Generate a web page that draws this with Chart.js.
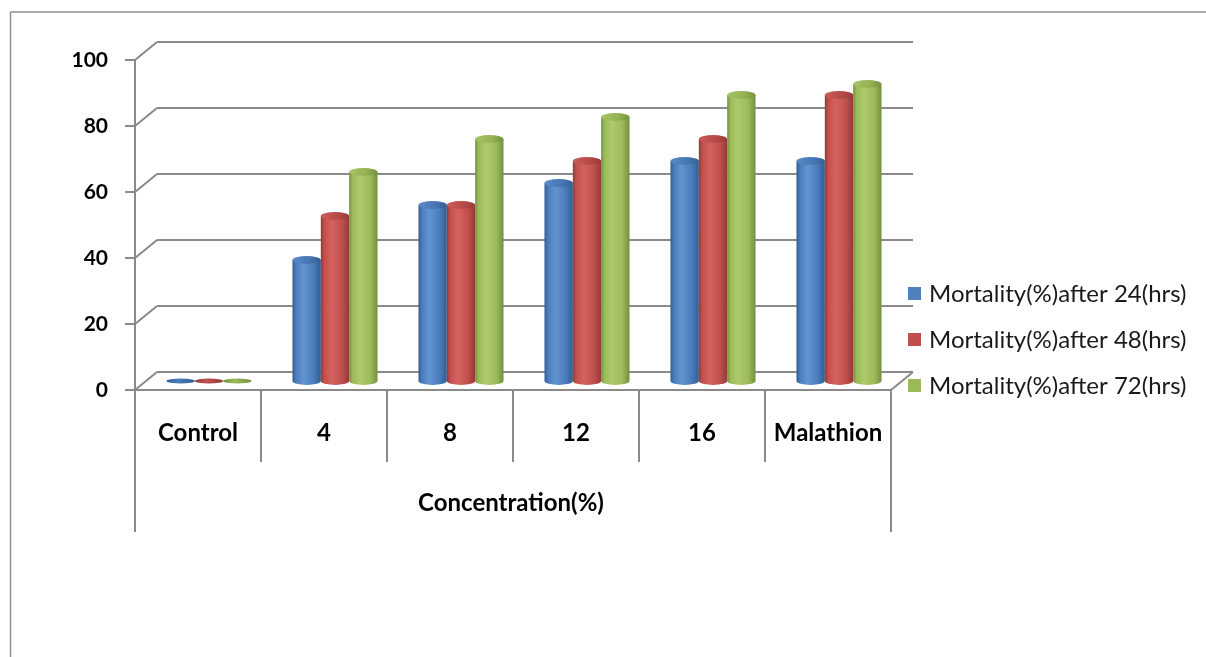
<!DOCTYPE html>
<html>
<head>
<meta charset="utf-8">
<title>Mortality by concentration</title>
<script src="https://cdn.jsdelivr.net/npm/chart.js@4.4.1/dist/chart.umd.min.js"></script>
<style>
  html, body { margin: 0; padding: 0; background: #ffffff; }
  #wrap { position: relative; width: 1206px; height: 657px; }
  canvas { display: block; }
</style>
</head>
<body>
<div id="wrap"><canvas id="chart" width="1206" height="657"></canvas></div>
<script>
// Category labels along the horizontal axis
const categories = ['Control', '4', '8', '12', '16', 'Malathion'];

// Mortality (%) per exposure time
const mortality24 = [0, 36.67, 53.33, 60, 66.67, 66.67];
const mortality48 = [0, 50, 53.33, 66.67, 73.33, 86.67];
const mortality72 = [0, 63.33, 73.33, 80, 86.67, 90];

// Series names
const seriesNames = ['Mortality(%)after 24(hrs)', 'Mortality(%)after 48(hrs)', 'Mortality(%)after 72(hrs)'];

// Value axis ticks
const yTicks = [0, 20, 40, 60, 80, 100];

const xTitle = 'Concentration(%)';

// Cylinder shading per series
const palettes = [
  { dark: '#325d92', light: '#6394d2', mid: '#4a7cbb', top: '#4676b3', topLight: '#5d8ccb', swatch: '#4f81bd' },
  { dark: '#93393a', light: '#d6625e', mid: '#c0504d', top: '#b64a47', topLight: '#cd5d59', swatch: '#c0504d' },
  { dark: '#738f3f', light: '#aeca6b', mid: '#9bbb59', top: '#93b253', topLight: '#a7c566', swatch: '#9bbb59' }
];

// Half of the 3-D depth offset (front plane is -DX,+DY from the bars, back wall +DX,-DY)
const DX = 11, DY = 9;
const GRID = '#8a8a8a';

function drawCylinder(ctx, x, w, top, base, pal) {
  const rx = w / 2;
  const l = x - rx, r = x + rx;
  if (base - top < 1) {
    const g = ctx.createLinearGradient(l, 0, r, 0);
    g.addColorStop(0, pal.dark);
    g.addColorStop(0.4, pal.mid);
    g.addColorStop(1, pal.dark);
    ctx.fillStyle = g;
    ctx.beginPath();
    ctx.ellipse(x, base, rx, 2.6, 0, 0, Math.PI * 2);
    ctx.fill();
    return;
  }
  const ry = w * 0.14;
  const g = ctx.createLinearGradient(l, 0, r, 0);
  g.addColorStop(0, pal.dark);
  g.addColorStop(0.12, pal.mid);
  g.addColorStop(0.38, pal.light);
  g.addColorStop(0.75, pal.mid);
  g.addColorStop(1, pal.dark);
  ctx.fillStyle = g;
  ctx.beginPath();
  ctx.moveTo(l, top);
  ctx.lineTo(l, base);
  ctx.ellipse(x, base, rx, ry, 0, Math.PI, 0, true);
  ctx.lineTo(r, top);
  ctx.closePath();
  ctx.fill();
  const tg = ctx.createLinearGradient(l, top - ry, r, top + ry);
  tg.addColorStop(0, pal.topLight);
  tg.addColorStop(0.6, pal.top);
  tg.addColorStop(1, pal.dark);
  ctx.fillStyle = tg;
  ctx.beginPath();
  ctx.ellipse(x, top, rx, ry, 0, 0, Math.PI * 2);
  ctx.fill();
}

function line(ctx, x1, y1, x2, y2) {
  ctx.beginPath();
  ctx.moveTo(x1, y1);
  ctx.lineTo(x2, y2);
  ctx.stroke();
}

const frame3d = {
  id: 'frame3d',
  beforeDatasetsDraw(chart) {
    const { ctx, chartArea: a, scales } = chart;
    const ys = scales.y, xs = scales.x;
    ctx.save();

    // outer chart border
    ctx.strokeStyle = '#8f8f8f';
    ctx.lineWidth = 1.5;
    line(ctx, 10.5, 12, 1206, 12);
    line(ctx, 10.5, 12, 10.5, 657);

    ctx.strokeStyle = GRID;
    ctx.lineWidth = 2;
    const fl = a.left - DX, fr = a.right - DX;
    const bl = a.left + DX, br = a.right + DX;

    // back wall gridlines, side wall diagonals and tick marks
    yTicks.forEach(v => {
      const y = ys.getPixelForValue(v);
      line(ctx, bl, y - DY, br, y - DY);
      line(ctx, fl, y + DY, bl, y - DY);
      line(ctx, fl - 10, y + DY, fl, y + DY);
    });

    // floor
    const y0 = ys.getPixelForValue(0);
    line(ctx, fl, y0 + DY, fr, y0 + DY);
    line(ctx, fr, y0 + DY, br, y0 - DY);

    // front value axis and outer category frame lines
    line(ctx, fl, ys.getPixelForValue(100) + DY, fl, 532);
    line(ctx, fr, y0 + DY, fr, 532);

    // category dividers
    const step = (a.right - a.left) / categories.length;
    for (let i = 1; i < categories.length; i++) {
      const x = a.left + step * i - DX;
      line(ctx, x, y0 + DY, x, 462);
    }

    // value tick labels
    ctx.fillStyle = '#000';
    ctx.font = 'bold 21px Lato';
    ctx.textAlign = 'right';
    ctx.textBaseline = 'middle';
    yTicks.forEach(v => {
      ctx.fillText(String(v), fl - 27, ys.getPixelForValue(v) + DY);
    });

    // category labels
    ctx.textAlign = 'center';
    ctx.font = 'bold 24px Lato';
    categories.forEach((c, i) => {
      ctx.fillText(c, xs.getPixelForValue(i) - DX, 433);
    });

    // axis title
    ctx.font = 'bold 24px Lato';
    ctx.fillText(xTitle, (fl + fr) / 2 - 2, 503);

    // legend
    ctx.textAlign = 'left';
    ctx.font = '24px Lato';
    chart.data.datasets.forEach((ds, i) => {
      const cy = 293 + i * 46;
      ctx.fillStyle = palettes[i].swatch;
      ctx.fillRect(908, cy - 6, 13, 13);
      ctx.fillStyle = '#1a1a1a';
      ctx.fillText(ds.label, 929, cy + 1);
    });
    ctx.restore();
  },
  beforeDatasetDraw() {
    return false;
  },
  afterDatasetsDraw(chart) {
    const { ctx } = chart;
    ctx.save();
    const metas = chart.data.datasets.map((_, i) => chart.getDatasetMeta(i));
    for (let c = 0; c < categories.length; c++) {
      metas.forEach((m, s) => {
        const el = m.data[c];
        const p = el.getProps(['x', 'y', 'base', 'width'], true);
        drawCylinder(ctx, p.x, p.width, p.y, p.base, palettes[s]);
      });
    }
    ctx.restore();
  }
};

const datasets = [mortality24, mortality48, mortality72].map((d, i) => ({
  label: seriesNames[i],
  data: d,
  backgroundColor: palettes[i].swatch,
  categoryPercentage: 0.675,
  barPercentage: 1
}));

new Chart(document.getElementById('chart'), {
  type: 'bar',
  data: { labels: categories, datasets },
  options: {
    responsive: false,
    animation: false,
    layout: { padding: { left: 146, right: 304, top: 51, bottom: 276 } },
    plugins: { legend: { display: false }, tooltip: { enabled: false } },
    scales: {
      x: { display: false },
      y: { display: false, min: 0, max: 100 }
    }
  },
  plugins: [frame3d]
});
</script>
</body>
</html>
